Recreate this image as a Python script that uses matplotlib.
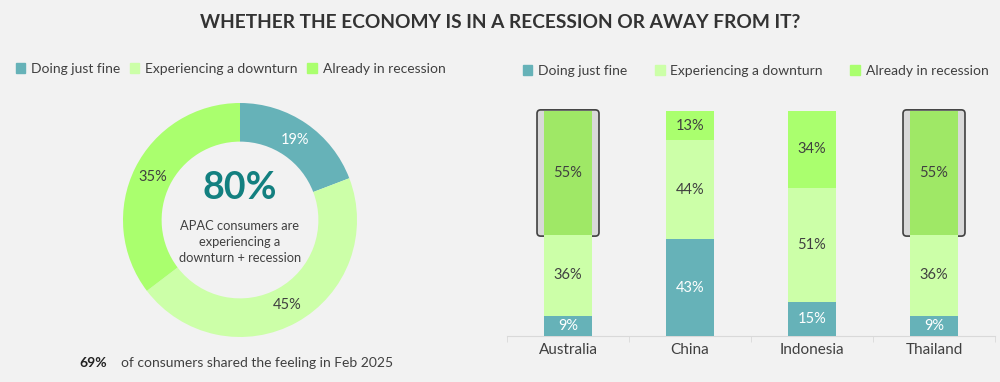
import matplotlib.pyplot as plt
import numpy as np
from matplotlib.patches import FancyBboxPatch, Patch

plt.rcParams['font.family'] = ['Lato', 'DejaVu Sans']

# data
labels = ["Doing just fine", "Experiencing a downturn", "Already in recession"]
colors = ["#66b2b8", "#ccffa8", "#aaff6e"]
apac = [19, 45, 35]
countries = ["Australia", "China", "Indonesia", "Thailand"]
fine = [9, 43, 15, 9]
downturn = [36, 44, 51, 36]
recession = [55, 13, 34, 55]
highlight = ["Australia", "Thailand"]

bg = "#f2f2f2"
txt = "#404040"

fig = plt.figure(figsize=(10, 3.82), dpi=100, facecolor=bg)
fig.text(0.5, 1 - 22 / 382, "WHETHER THE ECONOMY IS IN A RECESSION OR AWAY FROM IT?",
         ha="center", va="center", fontsize=13.8, fontweight="bold", color="#333333")

# donut
ax1 = fig.add_axes([(240 - 117) / 1000, (162 - 117) / 382, 234 / 1000, 234 / 382])
ax1.set_facecolor(bg)
wedges, _ = ax1.pie(apac, colors=colors, startangle=90, counterclock=False,
                    radius=1, wedgeprops=dict(width=0.33, edgecolor="none"))
for v, w in zip(apac, wedges):
    mid = (w.theta1 + w.theta2) / 2
    r = 0.835
    ax1.text(r * np.cos(np.radians(mid)), r * np.sin(np.radians(mid)), f"{v}%",
             ha="center", va="center", fontsize=10.5,
             color="white" if v == apac[0] else txt)
ax1.set_xlim(-1, 1)
ax1.set_ylim(-1, 1)
ax1.set_aspect("auto")
ax1.axis("off")
ax1.text(0, 0.27, "80%", ha="center", va="center", fontsize=27, fontweight="bold", color="#138080")
ax1.text(0, -0.19, "APAC consumers are\nexperiencing a\ndownturn + recession",
         ha="center", va="center", fontsize=9.3, color=txt, linespacing=1.4)

fig.legend(handles=[Patch(color=c) for c in colors], labels=labels,
           loc="center left", bbox_to_anchor=(0.003, 1 - 69 / 382), ncol=3, frameon=False,
           fontsize=10, handlelength=0.7, handleheight=0.7, handletextpad=0.4,
           columnspacing=0.7, labelcolor=txt)

fig.text(107 / 1000, 1 - 363 / 382, "69%", ha="right", va="center", fontsize=10,
         fontweight="bold", color="#222222")
fig.text(121 / 1000, 1 - 363 / 382, "of consumers shared the feeling in Feb 2025",
         ha="left", va="center", fontsize=10, color=txt)

# stacked bars
ax2 = fig.add_axes([507 / 1000, 46 / 382, 488 / 1000, 225 / 382])
ax2.set_facecolor(bg)
x = np.arange(len(countries))
bw = 0.4
ax2.bar(x, fine, bw, color=colors[0], zorder=3)
ax2.bar(x, downturn, bw, bottom=fine, color=colors[1], zorder=3)
rec_colors = ["#9fe866" if c in highlight else colors[2] for c in countries]
ax2.bar(x, recession, bw, bottom=np.array(fine) + np.array(downturn), color=rec_colors, zorder=3)

for i, c in enumerate(countries):
    b1 = fine[i]
    b2 = fine[i] + downturn[i]
    ax2.text(i, b1 / 2, f"{fine[i]}%", ha="center", va="center", fontsize=10.5, color="white", zorder=5)
    ax2.text(i, b1 + downturn[i] / 2, f"{downturn[i]}%", ha="center", va="center", fontsize=10.5, color=txt, zorder=5)
    ax2.text(i, b2 + recession[i] / 2, f"{recession[i]}%", ha="center", va="center", fontsize=10.5, color=txt, zorder=5)
    if c in highlight:
        box = FancyBboxPatch((i - 0.254, b2 - 0.6), 0.508, recession[i] + 1.1,
                             boxstyle="round,pad=0,rounding_size=0.03", mutation_aspect=54,
                             facecolor="#d9d9d9", edgecolor="#404040", lw=1.2, zorder=2,
                             clip_on=False)
        ax2.add_patch(box)

ax2.set_xlim(-0.5, len(countries) - 0.5)
ax2.set_ylim(0, 100)
ax2.set_xticks(x)
ax2.set_xticklabels(countries, fontsize=11, color=txt)
ax2.tick_params(axis="x", which="major", length=0, pad=5)
ax2.set_xticks(np.arange(len(countries) + 1) - 0.5, minor=True)
ax2.tick_params(axis="x", which="minor", length=4, color="#d9d9d9")
ax2.set_yticks([])
for s in ["top", "right", "left"]:
    ax2.spines[s].set_visible(False)
ax2.spines["bottom"].set_color("#d9d9d9")

fig.legend(handles=[Patch(color=c) for c in colors], labels=labels,
           loc="center left", bbox_to_anchor=(0.510, 1 - 71 / 382), ncol=3, frameon=False,
           fontsize=10, handlelength=0.7, handleheight=0.7, handletextpad=0.4,
           columnspacing=2.0, labelcolor=txt)

fig.savefig("out.png", dpi=100, facecolor=bg)
